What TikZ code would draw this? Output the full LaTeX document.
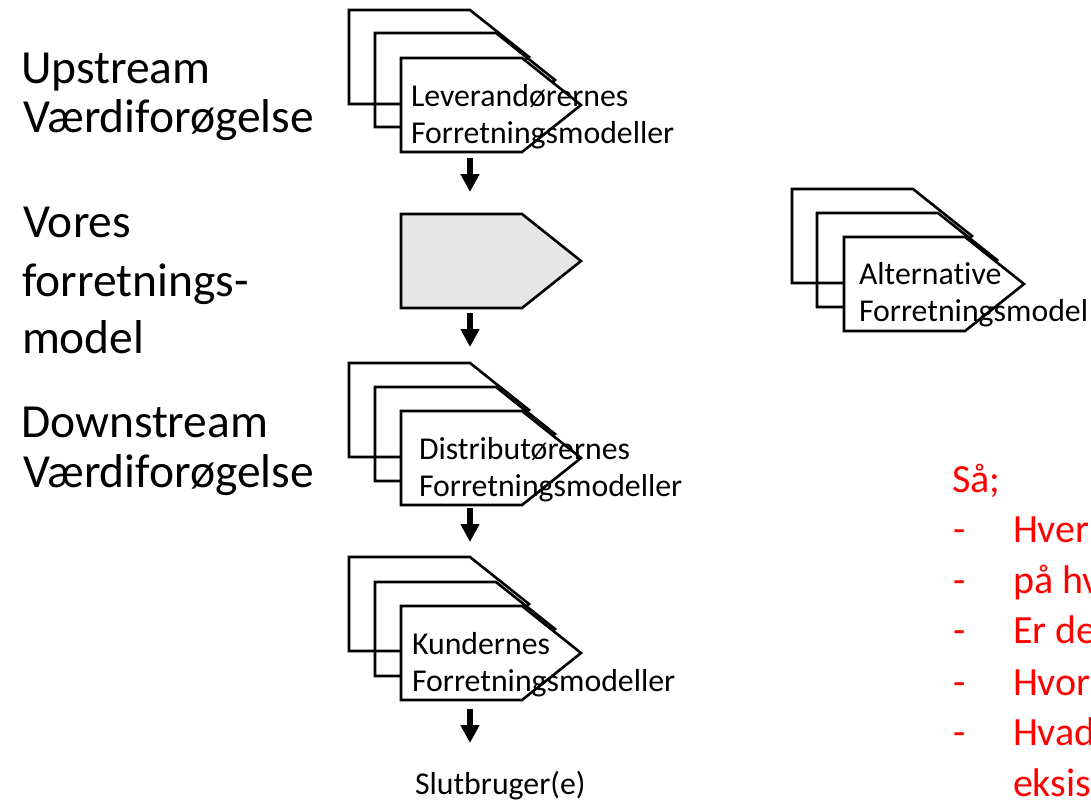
\documentclass[tikz,border=0pt]{standalone}
\usepackage{fontspec}
\setmainfont{Carlito}[Ligatures=NoCommon]
\usetikzlibrary{arrows.meta}
\definecolor{notered}{RGB}{255,0,0}
\definecolor{ourfill}{RGB}{230,230,230}
\tikzset{
  txt/.style={inner sep=0pt, outer sep=0pt, anchor=base west},
  shapeline/.style={draw=black, line width=2.6pt, line join=miter},
  flow/.style={line width=6pt, -{Triangle[width=18pt,length=18pt]}},
  biglabel/.style={txt, font=\fontsize{47.5}{50}\selectfont},
  boxlabel/.style={txt, font=\fontsize{31.8}{37}\selectfont},
  redlabel/.style={txt, font=\fontsize{40}{50}\selectfont, text=notered},
  pics/pent/.style={code={%
    \path[shapeline,#1] (0,0) -- (121,0) -- (180,47) -- (121,94) -- (0,94) -- cycle;}},
}
\begin{document}
\begin{tikzpicture}[x=1pt,y=-1pt]
\useasboundingbox (0,0) rectangle (1091,801);
\clip (0,0) rectangle (1091,801);

% row labels on the left
\node[biglabel] (up1) at (21,83) {Upstream};
\node[biglabel] (up2) at (23,132) {Værdiforøgelse};
\node[biglabel] (our1) at (23,237) {Vores};
\node[biglabel] (our2) at (22,296) {forretnings-};
\node[biglabel] (our3) at (22,353) {model};
\node[biglabel] (down1) at (21,437) {Downstream};
\node[biglabel] (down2) at (23,487) {Værdiforøgelse};

% suppliers: stacked pentagons
\pic at (349,10) {pent};
\pic at (375,33) {pent};
\pic at (401,58) {pent={fill=white}};
\node[boxlabel] (sup1) at (411,106) {Leverandørernes};
\node[boxlabel] (sup2) at (411,143) {Forretningsmodeller};

% our own business model
\pic at (401,214) {pent={fill=ourfill}};

% distributors
\pic at (349,363) {pent};
\pic at (375,387) {pent};
\pic at (401,411) {pent={fill=white}};
\node[boxlabel] (dis1) at (419,459) {Distributørernes};
\node[boxlabel] (dis2) at (419,496) {Forretningsmodeller};

% customers
\pic at (349,557) {pent};
\pic at (375,582) {pent};
\pic at (401,606) {pent={fill=white}};
\node[boxlabel] (cus1) at (412,654) {Kundernes};
\node[boxlabel] (cus2) at (412,691) {Forretningsmodeller};

% end users
\node[boxlabel] (end) at (415,794) {Slutbruger(e)};

% alternative models
\pic at (792,189) {pent};
\pic at (817,213) {pent};
\pic at (844,237) {pent={fill=white}};
\node[boxlabel] (alt1) at (859,284) {Alternative};
\node[boxlabel] (alt2) at (859,321) {Forretningsmodel};

% flow arrows between the stages
\coordinate (sup-out) at (470,158);
\coordinate (our-in) at (470,192);
\coordinate (our-out) at (470,313);
\coordinate (dis-in) at (470,347);
\coordinate (dis-out) at (470,508);
\coordinate (cus-in) at (470,542);
\coordinate (cus-out) at (470,709);
\coordinate (end-in) at (470,743);
\draw[flow] (sup-out) -- (our-in);
\draw[flow] (our-out) -- (dis-in);
\draw[flow] (dis-out) -- (cus-in);
\draw[flow] (cus-out) -- (end-in);

% questions in red
\node[redlabel] (q0) at (952,492) {Så;};
\node[redlabel] (d1) at (953,542) {-};
\node[redlabel] (q1) at (1013,542) {Hver};
\node[redlabel] (d2) at (953,593) {-};
\node[redlabel] (q2) at (1013,593) {på hv};
\node[redlabel] (d3) at (953,643) {-};
\node[redlabel] (q3) at (1013,643) {Er de};
\node[redlabel] (d4) at (953,695) {-};
\node[redlabel] (q4) at (1013,695) {Hvor};
\node[redlabel] (d5) at (953,745) {-};
\node[redlabel] (q5) at (1013,745) {Hvad};
\node[redlabel] (q6) at (1013,796) {eksis};
\end{tikzpicture}
\end{document}
